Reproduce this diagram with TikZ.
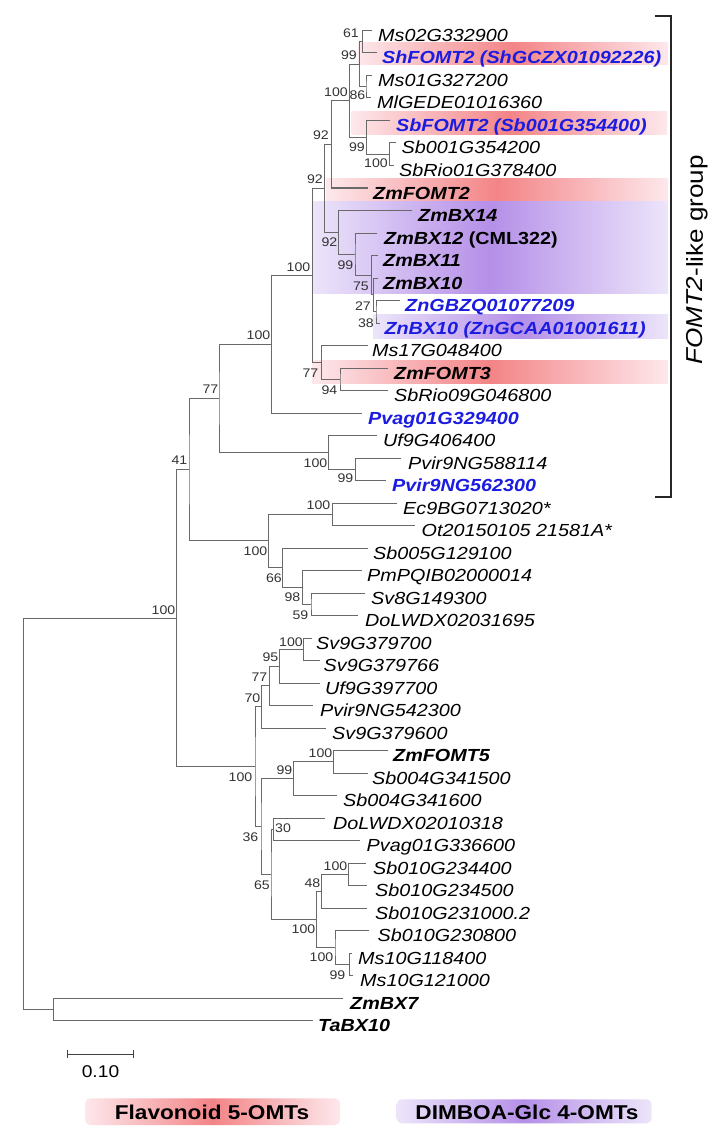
\documentclass[tikz,border=0pt]{standalone}
\usepackage{fontspec}
\usepackage{graphicx}
\newfontfamily\lab{Liberation Sans}[FakeStretch=1.13]
\definecolor{myblue}{RGB}{28,28,225}
\definecolor{pinkS}{RGB}{243,132,134}
\definecolor{pinkL}{RGB}{253,232,236}
\definecolor{purpS}{RGB}{181,143,232}
\definecolor{purpL}{RGB}{236,229,250}
\definecolor{brc}{RGB}{105,105,105}
\newcommand{\Leaf}[6]{%
  \coordinate (t#1) at (#2,{30.5+22.5*(#1-1)});
  \node[#4] (L#1) at (#3,{41.5+22.5*(#1-1)}) {#5#6};}
\tikzset{
  leaf/.style={anchor=base west, inner sep=0pt, font=\lab\itshape\fontsize{17.5}{20}\selectfont},
  leafb/.style={leaf, font=\lab\bfseries\itshape\fontsize{17.5}{20}\selectfont},
  leafbb/.style={leafb, text=myblue},
  bs/.style={anchor=east, inner sep=0pt, font=\lab\fontsize{12.5}{14}\selectfont, text=black!80},
  br/.style={draw=brc, line width=1pt},
  pinkbox/.style={left color=pinkL, right color=pinkL, middle color=pinkS},
  purpbox/.style={left color=purpL, right color=purpL, middle color=purpS},
}
\begin{document}
\begin{tikzpicture}[x=1pt,y=-1pt]
\useasboundingbox[fill=white] (0,0) rectangle (725,1142);
% highlight boxes
\shade[pinkbox] (358,43) rectangle (668,65);
\shade[pinkbox] (351.7,112) rectangle (667,135);
\shade[pinkbox] (326.7,178.3) rectangle (668,201.5);
\shade[pinkbox] (312,360) rectangle (668,383);
\shade[purpbox] (312.3,201.5) rectangle (668,293.3);
\shade[purpbox] (373.3,314) rectangle (668,338);
% leaves
\Leaf{1}{372}{378}{leaf}{}{Ms02G332900}
\Leaf{2}{377}{382}{leafbb}{}{ShFOMT2 (ShGCZX01092226)}
\Leaf{3}{372}{378}{leaf}{}{Ms01G327200}
\Leaf{4}{371}{377}{leaf}{}{MlGEDE01016360}
\Leaf{5}{390}{396}{leafbb}{}{SbFOMT2 (Sb001G354400)}
\Leaf{6}{396}{401.5}{leaf}{}{Sb001G354200}
\Leaf{7}{394}{399}{leaf}{}{SbRio01G378400}
\Leaf{8}{368}{373}{leafb}{}{ZmFOMT2}
\Leaf{9}{411.7}{418}{leafb}{}{ZmBX14}
\Leaf{10}{377}{384}{leafb}{}{ZmBX12 {\upshape (CML322)}}
\Leaf{11}{378}{383}{leafb}{}{ZmBX11}
\Leaf{12}{378}{383}{leafb}{}{ZmBX10}
\Leaf{13}{400}{405}{leafbb}{}{ZnGBZQ01077209}
\Leaf{14}{379.5}{384.3}{leafbb}{}{ZnBX10 (ZnGCAA01001611)}
\Leaf{15}{368}{372}{leaf}{}{Ms17G048400}
\Leaf{16}{388}{394}{leafb}{}{ZmFOMT3}
\Leaf{17}{388}{394}{leaf}{}{SbRio09G046800}
\Leaf{18}{362}{368}{leafbb}{}{Pvag01G329400}
\Leaf{19}{377}{383}{leaf}{}{Uf9G406400}
\Leaf{20}{401}{408}{leaf}{}{Pvir9NG588114}
\Leaf{21}{386}{392}{leafbb}{}{Pvir9NG562300}
\Leaf{22}{397}{403}{leaf}{}{Ec9BG0713020*}
\Leaf{23}{415}{421.5}{leaf}{}{Ot20150105 21581A*}
\Leaf{24}{368}{373}{leaf}{}{Sb005G129100}
\Leaf{25}{362}{367}{leaf}{}{PmPQIB02000014}
\Leaf{26}{365}{371}{leaf}{}{Sv8G149300}
\Leaf{27}{358}{365}{leaf}{}{DoLWDX02031695}
\Leaf{28}{312}{316}{leaf}{}{Sv9G379700}
\Leaf{29}{320}{323.5}{leaf}{}{Sv9G379766}
\Leaf{30}{320}{325}{leaf}{}{Uf9G397700}
\Leaf{31}{313}{320}{leaf}{}{Pvir9NG542300}
\Leaf{32}{326}{332}{leaf}{}{Sv9G379600}
\Leaf{33}{388}{393}{leafb}{}{ZmFOMT5}
\Leaf{34}{368}{372}{leaf}{}{Sb004G341500}
\Leaf{35}{337}{343}{leaf}{}{Sb004G341600}
\Leaf{36}{325}{333}{leaf}{}{DoLWDX02010318}
\Leaf{37}{360}{366.5}{leaf}{}{Pvag01G336600}
\Leaf{38}{366}{373}{leaf}{}{Sb010G234400}
\Leaf{39}{367}{375}{leaf}{}{Sb010G234500}
\Leaf{40}{367}{375}{leaf}{}{Sb010G231000.2}
\Leaf{41}{369}{377.5}{leaf}{}{Sb010G230800}
\Leaf{42}{352}{358}{leaf}{}{Ms10G118400}
\Leaf{43}{353}{360}{leaf}{}{Ms10G121000}
\Leaf{44}{343}{350}{leafb}{}{ZmBX7}
\Leaf{45}{313}{318}{leafb}{}{TaBX10}
% internal nodes (x, stem y)
\coordinate (n61) at (362.3,41.75);
\coordinate (n86) at (366,86.75);
\coordinate (n99a) at (359.3,64.25);
\coordinate (n100b) at (389.3,154.25);
\coordinate (n99b) at (366.7,137.375);
\coordinate (n100a) at (349.3,100.81);
\coordinate (R) at (331.7,144.41);
\coordinate (n38) at (376,311.75);
\coordinate (n27) at (373.3,294.875);
\coordinate (n75) at (371.7,275.19);
\coordinate (n99c) at (355,254.09);
\coordinate (n92BX) at (338.3,232.3);
\coordinate (Q) at (324.3,188.35);
\coordinate (n94) at (340,379.25);
\coordinate (n77a) at (321.5,362.375);
\coordinate (n100BX) at (312.3,275.36);
\coordinate (n100c) at (271.7,344.18);
\coordinate (n99d) at (355.7,469.25);
\coordinate (n100d) at (328.3,452.375);
\coordinate (n77b) at (219,398.28);
\coordinate (n100f) at (332.7,514.25);
\coordinate (n59) at (311,604.25);
\coordinate (n98) at (302.7,587.375);
\coordinate (n66) at (282.3,567.69);
\coordinate (n100e) at (268.3,540.97);
\coordinate (n41) at (189,469.62);
\coordinate (n100h) at (303.3,649.25);
\coordinate (n95) at (279.3,666.125);
\coordinate (n77c) at (269.3,685.81);
\coordinate (n70) at (261.7,706.91);
\coordinate (n100i) at (333.3,761.75);
\coordinate (n99e) at (293.3,778.625);
\coordinate (n30) at (273.5,829.25);
\coordinate (n100l) at (348.3,874.25);
\coordinate (n48) at (321.7,891.125);
\coordinate (n99f) at (349.3,964.25);
\coordinate (n100k) at (335,947.375);
\coordinate (n100j) at (316.7,919.25);
\coordinate (n65) at (271,874.25);
\coordinate (n36) at (261,826.44);
\coordinate (n100g) at (255,766.67);
\coordinate (n100r) at (176.7,618.15);
\coordinate (nBX7) at (53.3,1009.25);
\coordinate (root) at (23.3,813.7);
% branches
\draw[br] (t1) -| (n61) |- (t2);
\draw[br] (t3) -| (n86) |- (t4);
\draw[br] (n61) -| (n99a) |- (n86);
\draw[br] (t6) -| (n100b) |- (t7);
\draw[br] (t5) -| (n99b) |- (n100b);
\draw[br] (n99a) -| (n100a) |- (n99b);
\draw[br] (n100a) -| (R) |- (t8);
\draw[br] (t13) -| (n38) |- (t14);
\draw[br] (t12) -| (n27) |- (n38);
\draw[br] (t11) -| (n75) |- (n27);
\draw[br] (t10) -| (n99c) |- (n75);
\draw[br] (t9) -| (n92BX) |- (n99c);
\draw[br] (R) -| (Q) |- (n92BX);
\draw[br] (t16) -| (n94) |- (t17);
\draw[br] (t15) -| (n77a) |- (n94);
\draw[br] (Q) -| (n100BX) |- (n77a);
\draw[br] (n100BX) -| (n100c) |- (t18);
\draw[br] (t20) -| (n99d) |- (t21);
\draw[br] (t19) -| (n100d) |- (n99d);
\draw[br] (n100c) -| (n77b) |- (n100d);
\draw[br] (t22) -| (n100f) |- (t23);
\draw[br] (t26) -| (n59) |- (t27);
\draw[br] (t25) -| (n98) |- (n59);
\draw[br] (t24) -| (n66) |- (n98);
\draw[br] (n100f) -| (n100e) |- (n66);
\draw[br] (n77b) -| (n41) |- (n100e);
\draw[br] (t28) -| (n100h) |- (t29);
\draw[br] (n100h) -| (n95) |- (t30);
\draw[br] (n95) -| (n77c) |- (t31);
\draw[br] (n77c) -| (n70) |- (t32);
\draw[br] (t33) -| (n100i) |- (t34);
\draw[br] (n100i) -| (n99e) |- (t35);
\draw[br] (t36) -| (n30) |- (t37);
\draw[br] (t38) -| (n100l) |- (t39);
\draw[br] (n100l) -| (n48) |- (t40);
\draw[br] (t42) -| (n99f) |- (t43);
\draw[br] (t41) -| (n100k) |- (n99f);
\draw[br] (n48) -| (n100j) |- (n100k);
\draw[br] (n30) -| (n65) |- (n100j);
\draw[br] (n99e) -| (n36) |- (n65);
\draw[br] (n70) -| (n100g) |- (n36);
\draw[br] (n41) -| (n100r) |- (n100g);
\draw[br] (t44) -| (nBX7) |- (t45);
\draw[br] (n100r) -| (root) |- (nBX7);
% bootstrap values
\node[bs] (b61) at (359,33) {61};
\node[bs] (b99a) at (357,55) {99};
\node[bs] (b86) at (365.5,95) {86};
\node[bs] (b100a) at (348,92) {100};
\node[bs] (b99b) at (365,147) {99};
\node[bs] (b100b) at (388,163) {100};
\node[bs] (b92R) at (329,135) {92};
\node[bs] (b92Q) at (323,179) {92};
\node[bs] (b92BX) at (337.5,242) {92};
\node[bs] (b99c) at (353.5,265) {99};
\node[bs] (b75) at (369,286) {75};
\node[bs] (b27) at (371,306) {27};
\node[bs] (b38) at (374,323) {38};
\node[bs] (b100BX) at (310.5,267) {100};
\node[bs] (b77a) at (318.5,373) {77};
\node[bs] (b94) at (337.5,390) {94};
\node[bs] (b100c) at (270.5,335) {100};
\node[bs] (b77b) at (218.5,389) {77};
\node[bs] (b100d) at (327.5,463) {100};
\node[bs] (b99d) at (353.5,478) {99};
\node[bs] (b41) at (187.5,460) {41};
\node[bs] (b100r) at (175.5,610) {100};
\node[bs] (b100e) at (267.5,551) {100};
\node[bs] (b100f) at (330.5,505) {100};
\node[bs] (b66) at (282,578) {66};
\node[bs] (b98) at (300.5,597) {98};
\node[bs] (b59) at (308.5,615) {59};
\node[bs] (b100h) at (303,642) {100};
\node[bs] (b95) at (278.5,657) {95};
\node[bs] (b77c) at (267.5,677) {77};
\node[bs] (b70) at (260.5,698) {70};
\node[bs] (b100g) at (252.5,777) {100};
\node[bs] (b100i) at (332.5,753) {100};
\node[bs] (b99e) at (292.5,770) {99};
\node[bs] (b36) at (258.5,837) {36};
\node[bs, anchor=west] (b30) at (275,828) {30};
\node[bs] (b65) at (270,885) {65};
\node[bs] (b100j) at (315.5,929) {100};
\node[bs] (b48) at (320.5,883) {48};
\node[bs] (b100l) at (347.5,866) {100};
\node[bs] (b100k) at (333.5,957) {100};
\node[bs] (b99f) at (345.5,975) {99};
% bracket
\coordinate (bt) at (655,16);
\coordinate (bb) at (655,497);
\draw[line width=1.6pt, black!85] (bt) -- (671,16) -- (671,497) -- (bb);
\node[rotate=90, inner sep=0pt, font=\lab\fontsize{23}{26}\selectfont] (grp) at (697,260) {\textit{FOMT2}-like group};
% scale bar
\coordinate (s1) at (67.7,1054);
\coordinate (s2) at (133.3,1054);
\draw[line width=1pt, black!75] (s1) -- (s2);
\draw[line width=1pt, black!75] ([yshift=-4pt]s1) -- ([yshift=4pt]s1);
\draw[line width=1pt, black!75] ([yshift=-4pt]s2) -- ([yshift=4pt]s2);
\node[inner sep=0pt, font=\lab\fontsize{17}{20}\selectfont] (sl) at (100.5,1072) {0.10};
% legend
\shade[pinkbox, rounded corners=5pt] (85,1098.3) rectangle (340,1125);
\node[inner sep=0pt, font=\lab\bfseries\fontsize{20}{24}\selectfont] (lg1) at (212,1112) {Flavonoid 5-OMTs};
\shade[purpbox, rounded corners=5pt] (396.7,1099.3) rectangle (651.7,1123.3);
\node[inner sep=0pt, font=\lab\bfseries\fontsize{20}{24}\selectfont] (lg2) at (527,1112) {DIMBOA-Glc 4-OMTs};
\end{tikzpicture}
\end{document}
